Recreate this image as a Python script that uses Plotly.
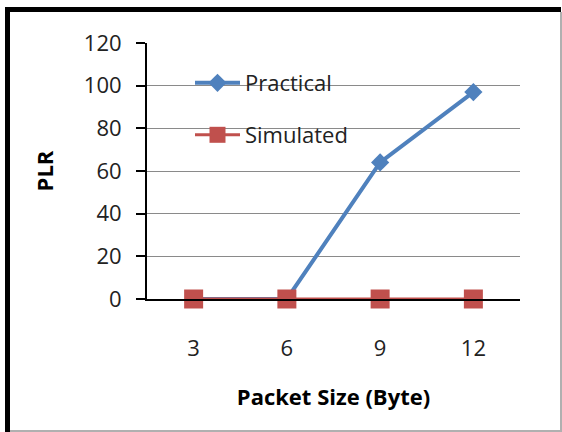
import plotly.graph_objects as go

# Packet loss ratio versus packet size
packet_sizes = ["3", "6", "9", "12"]
plr_practical = [0, 0, 64, 97]
plr_simulated = [0, 0, 0, 0]
y_ticks = [0, 20, 40, 60, 80, 100, 120]

BLUE = "#4F81BD"
RED = "#C0504D"
FONT = "Open Sans"

W, H = 562, 432
L, R, T, B = 147, 42, 43, 133
pw, ph = W - L - R, H - T - B


def px_x(p):
    return (p - L) / pw


def px_y(p):
    return (H - B - p) / ph


fig = go.Figure()

fig.add_trace(go.Scatter(
    x=packet_sizes, y=plr_practical, name="Practical", mode="lines+markers",
    line=dict(color=BLUE, width=4),
    marker=dict(symbol="diamond", size=14, color=BLUE),
    cliponaxis=False, legend="legend",
))
fig.add_trace(go.Scatter(
    x=packet_sizes, y=plr_simulated, name="Simulated", mode="lines+markers",
    line=dict(color=RED, width=3),
    marker=dict(symbol="square", size=19, color=RED),
    cliponaxis=False, legend="legend2",
))

legend_style = dict(
    xref="paper", yref="paper", xanchor="left", yanchor="middle",
    bgcolor="rgba(0,0,0,0)", font=dict(family=FONT, size=22, color="#222"),
    borderwidth=0, itemwidth=45,
)
fig.update_layout(
    width=W, height=H,
    margin=dict(l=L, r=R, t=T, b=B, pad=0),
    paper_bgcolor="white", plot_bgcolor="white",
    font=dict(family=FONT, size=22, color="#222"),
    showlegend=True,
    legend=dict(x=px_x(190), y=px_y(83), **legend_style),
    legend2=dict(x=px_x(190), y=px_y(135), **legend_style),
    xaxis=dict(
        type="category", range=[-0.5, 3.5],
        showline=True, linecolor="black", linewidth=2,
        ticks="", showgrid=False, zeroline=False,
        ticklabelstandoff=29,
        title=dict(text="<b>Packet Size (Byte)</b>", standoff=28,
                   font=dict(family=FONT, size=22, color="black")),
    ),
    yaxis=dict(
        range=[0, 120], tickvals=y_ticks,
        showline=True, linecolor="black", linewidth=2,
        ticks="outside", ticklen=9, tickwidth=2, tickcolor="black",
        ticklabelstandoff=10,
        showgrid=True, gridcolor="#8a8a8a", gridwidth=1, zeroline=False,
        title=dict(text="<b>PLR</b>", standoff=24,
                   font=dict(family=FONT, size=22, color="black")),
    ),
    shapes=[
        # outer frame: heavy black top/left, thin grey bottom/right
        dict(type="line", xref="paper", yref="paper", layer="above",
             x0=px_x(7.5), x1=px_x(561), y0=px_y(9.5), y1=px_y(9.5),
             line=dict(color="black", width=5)),
        dict(type="line", xref="paper", yref="paper", layer="above",
             x0=px_x(7.5), x1=px_x(7.5), y0=px_y(7), y1=px_y(432),
             line=dict(color="black", width=5)),
        dict(type="line", xref="paper", yref="paper", layer="above",
             x0=px_x(561), x1=px_x(561), y0=px_y(12), y1=px_y(431),
             line=dict(color="#b0b0b0", width=2)),
        dict(type="line", xref="paper", yref="paper", layer="above",
             x0=px_x(10), x1=px_x(562), y0=px_y(431), y1=px_y(431),
             line=dict(color="#b0b0b0", width=2)),
    ],
)

fig.write_html("out.html")
